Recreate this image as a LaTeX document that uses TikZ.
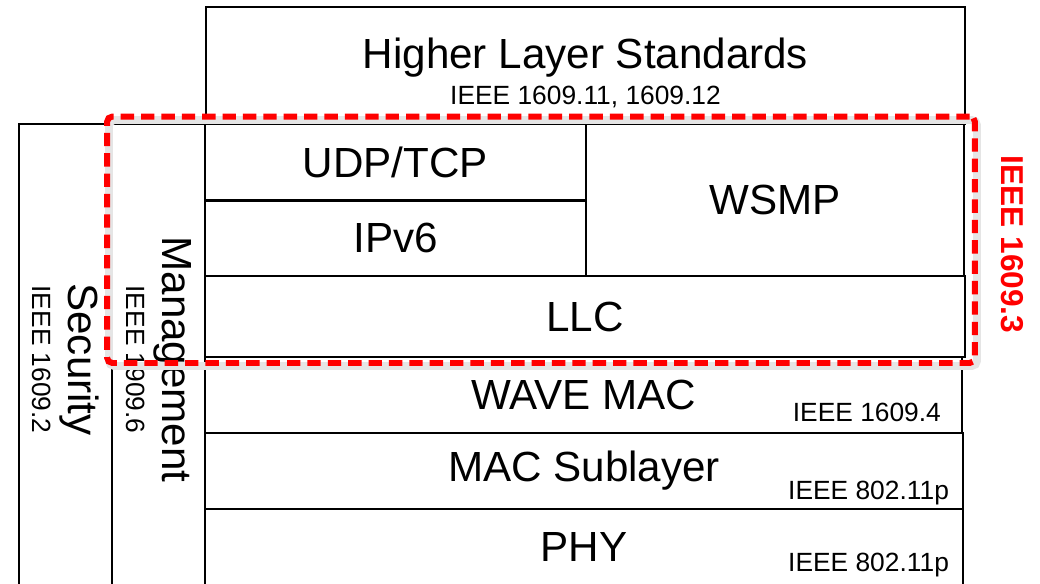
\documentclass[tikz,border=0pt]{standalone}
\usepackage{fontspec}
\setmainfont{Liberation Sans}
\usetikzlibrary{positioning,calc}
\newcommand{\std}[1]{{\fontsize{15}{18}\selectfont #1}}

\begin{document}
\begin{tikzpicture}[
    x=0.02cm, y=-0.02cm,
    layer/.style = {draw, line width=1.5pt, inner sep=0pt, align=center,
                    font=\fontsize{24}{20.4}\selectfont},
    side/.style  = {layer, rotate=-90, minimum width=9.42cm, minimum height=1.86cm},
    spec/.style  = {inner sep=0pt, font=\fontsize{15}{18}\selectfont},
    group/.style = {draw=red, line width=3.4pt, dash pattern=on 7.6pt off 4pt,
                    rounded corners=3pt, minimum width=17.36cm, minimum height=4.93cm},
    halo/.style  = {draw=black!10, line width=4.5pt, rounded corners=3pt},
]
\useasboundingbox (0,0) rectangle (1040,583);
\clip (0,0) rectangle (1040,583);

% upper stack
\node[layer, minimum width=15.18cm, minimum height=2.34cm] (hls) at (585.5,65.5)
     {\rule{0pt}{26pt}Higher Layer Standards\\\std{IEEE 1609.11, 1609.12}};
\node[layer, minimum width=7.62cm, minimum height=1.53cm] (udp)  at (395.5,162.25) {UDP/TCP};
\node[layer, minimum width=7.62cm, minimum height=1.51cm] (ipv)  at (395.5,238.25) {IPv6};
\node[layer, minimum width=7.56cm, minimum height=3.04cm] (wsmp) at (775,200) {WSMP};
\node[layer, minimum width=15.2cm, minimum height=1.62cm] (llc)  at (585,316.5) {LLC};

% lower stack
\node[layer, minimum width=15.14cm, minimum height=1.52cm] (wave) at (583.5,395) {WAVE MAC};
\node[layer, minimum width=15.16cm, minimum height=1.52cm] (mac)  at (584,471) {MAC Sublayer};
\node[layer, minimum width=15.16cm, minimum height=1.52cm] (phy)  at (584,547) {PHY};
\node[spec, anchor=base east] (wavestd) at ($(wave.south east)+(-22,-13)$) {IEEE 1609.4};
\node[spec, anchor=base east] (macstd)  at ($(mac.south east)+(-15,-11)$)  {IEEE 802.11p};
\node[spec, anchor=base east] (phystd)  at ($(phy.south east)+(-15,-15)$)  {IEEE 802.11p};

% side columns
\node[side] (sec)  at (65.5,359.5)  {Security\\\std{IEEE 1609.2}};
\node[side] (mgmt) at (158.5,359.5) {Management\\\std{IEEE 1909.6}};

% 1609.3 scope
\draw[halo] (109,120) rectangle (977,366);
\node[group] (grp) at (541,239.75) {};
\node[rotate=-90, text=red, inner sep=0pt, font=\fontsize{18}{20}\selectfont\bfseries]
     (grplbl) at (1012,244.5) {IEEE 1609.3};
\end{tikzpicture}
\end{document}
